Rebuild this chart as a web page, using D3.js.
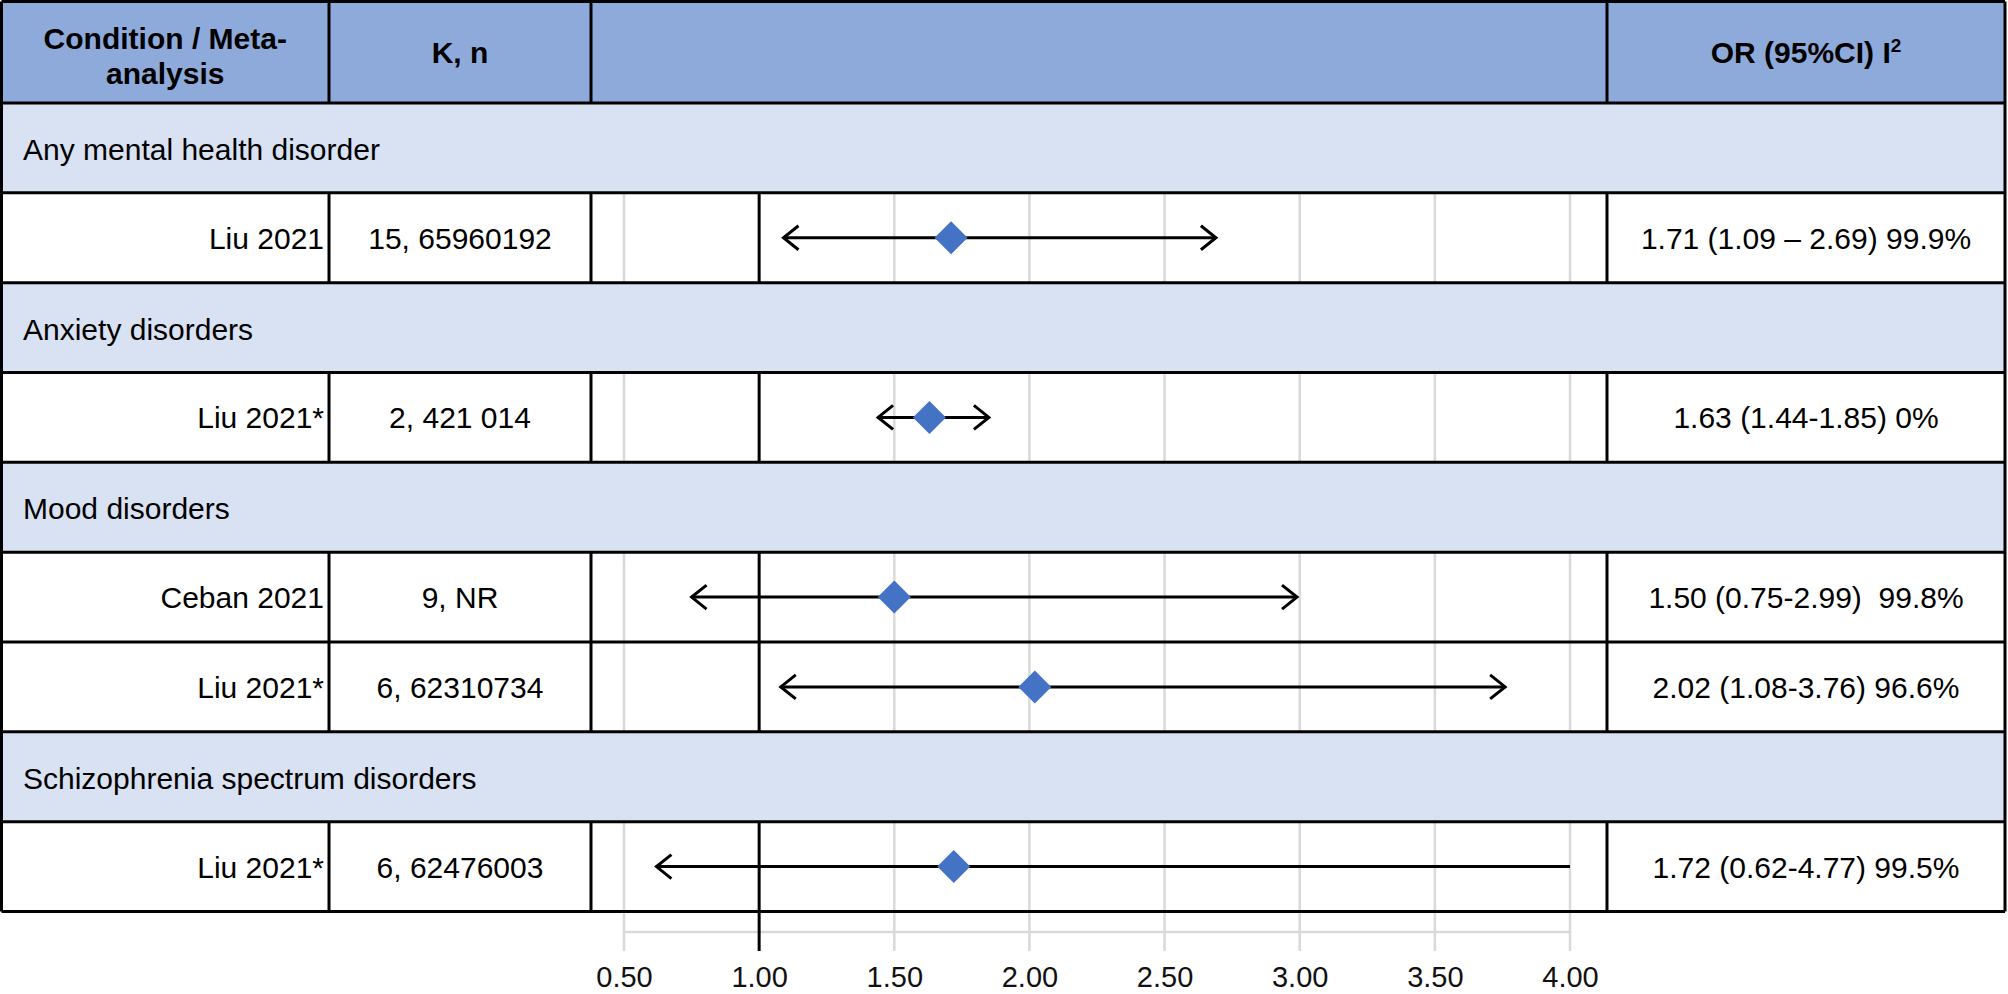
<!DOCTYPE html>
<html>
<head>
<meta charset="utf-8">
<script src="https://cdn.jsdelivr.net/npm/d3@7"></script>
<style>
  html, body { margin: 0; padding: 0; background: #fff; }
  svg { display: block; font-family: "Liberation Sans", Arial, sans-serif; }
  text { white-space: pre; }
</style>
</head>
<body>
<div id="chart"></div>
<script>
// Table content
const groups = ["Any mental health disorder", "Anxiety disorders", "Mood disorders", "Schizophrenia spectrum disorders"];
const studies = ["Liu 2021", "Liu 2021*", "Ceban 2021", "Liu 2021*", "Liu 2021*"];
const studyGroup = [0, 1, 2, 2, 3];
const kn = ["15, 65960192", "2, 421 014", "9, NR", "6, 62310734", "6, 62476003"];
const orValues = [1.71, 1.63, 1.50, 2.02, 1.72];
const ciLow = [1.09, 1.44, 0.75, 1.08, 0.62];
const ciHigh = [2.69, 1.85, 2.99, 3.76, 4.77];
const orLabels = ["1.71 (1.09 \u2013 2.69) 99.9%", "1.63 (1.44-1.85) 0%", "1.50 (0.75-2.99)  99.8%", "2.02 (1.08-3.76) 96.6%", "1.72 (0.62-4.77) 99.5%"];
const xTicks = [0.5, 1, 1.5, 2, 2.5, 3, 3.5, 4];

/** Layout */
const width = 2008, height = 994;
const left = 1.5, right = 2005;
const colX = [left, 329, 591, 1607, right];
const headerTop = 1.5, headerBottom = 103, tableBottom = 911.5;
const gridBottom = 951, axisLineY = 932;
const headerFill = "#8EAADB", sectionFill = "#D9E2F3", markerFill = "#4472C4";
const fontSize = 30;

// Flatten into table rows: a section row for each group followed by its studies
const rows = [];
groups.forEach((g, gi) => {
  rows.push({type: "section", label: g});
  studyGroup.forEach((sg, i) => {
    if (sg === gi) rows.push({type: "study", i: i});
  });
});

const yScale = d3.scaleBand()
  .domain(d3.range(rows.length))
  .range([headerBottom, tableBottom]);

const xScale = d3.scaleLinear()
  .domain([xTicks[0], xTicks[xTicks.length - 1]])
  .range([624, 1570]);

const svg = d3.select("#chart")
  .append("svg")
  .attr("width", width)
  .attr("height", height);

/** Gridlines behind the table */
const grid = svg.append("g").attr("id", "grid");
grid.selectAll("line.v")
  .data(xTicks.filter(d => d !== 1))
  .enter()
  .append("line")
  .attr("class", "v")
  .attr("x1", d => xScale(d)).attr("x2", d => xScale(d))
  .attr("y1", headerBottom).attr("y2", gridBottom)
  .attr("stroke", "#d9d9d9")
  .attr("stroke-width", 2.5);

grid.append("line")
  .attr("x1", xScale(xTicks[0])).attr("x2", xScale(xTicks[xTicks.length - 1]))
  .attr("y1", axisLineY).attr("y2", axisLineY)
  .attr("stroke", "#d9d9d9")
  .attr("stroke-width", 2.5);

// reference line at OR = 1
grid.append("line")
  .attr("x1", xScale(1)).attr("x2", xScale(1))
  .attr("y1", headerBottom).attr("y2", gridBottom)
  .attr("stroke", "#000")
  .attr("stroke-width", 3);

/** Header and section fills */
svg.append("rect")
  .attr("x", left).attr("y", headerTop)
  .attr("width", right - left).attr("height", headerBottom - headerTop)
  .attr("fill", headerFill);

svg.selectAll("rect.section")
  .data(rows.map((r, i) => ({...r, idx: i})).filter(r => r.type === "section"))
  .enter()
  .append("rect")
  .attr("class", "section")
  .attr("x", left).attr("y", d => yScale(d.idx))
  .attr("width", right - left).attr("height", yScale.bandwidth())
  .attr("fill", sectionFill);

/** Borders */
const borders = svg.append("g")
  .attr("stroke", "#000")
  .attr("stroke-width", 3);

const hLines = [headerTop, headerBottom].concat(rows.map((r, i) => yScale(i) + yScale.bandwidth()));
borders.selectAll("line.h")
  .data(hLines)
  .enter()
  .append("line")
  .attr("x1", left).attr("x2", right)
  .attr("y1", d => d).attr("y2", d => d);

borders.selectAll("line.outer")
  .data([left, right])
  .enter()
  .append("line")
  .attr("x1", d => d).attr("x2", d => d)
  .attr("y1", headerTop).attr("y2", tableBottom);

// inner column borders only on header and study rows
const cellSpans = [[headerTop, headerBottom]].concat(
  rows.map((r, i) => r.type === "study" ? [yScale(i), yScale(i) + yScale.bandwidth()] : null).filter(d => d)
);
cellSpans.forEach(span => {
  borders.selectAll(null)
    .data(colX.slice(1, 4))
    .enter()
    .append("line")
    .attr("x1", d => d).attr("x2", d => d)
    .attr("y1", span[0]).attr("y2", span[1]);
});

/** Header text */
const header = svg.append("g")
  .attr("font-weight", "bold")
  .attr("font-size", fontSize)
  .attr("fill", "#000")
  .attr("text-anchor", "middle");

header.append("text")
  .attr("x", (colX[0] + colX[1]) / 2).attr("y", 49)
  .text("Condition / Meta-");
header.append("text")
  .attr("x", (colX[0] + colX[1]) / 2).attr("y", 84)
  .text("analysis");
header.append("text")
  .attr("x", (colX[1] + colX[2]) / 2).attr("y", 63)
  .text("K, n");
const orHead = header.append("text")
  .attr("x", (colX[3] + colX[4]) / 2).attr("y", 63);
orHead.append("tspan").text("OR (95%CI) I");
orHead.append("tspan").attr("font-size", 19).attr("dy", -11).text("2");

/** Row text */
const body = svg.append("g")
  .attr("font-size", fontSize)
  .attr("fill", "#000");

rows.forEach((r, i) => {
  const yMid = yScale(i) + yScale.bandwidth() / 2;
  if (r.type === "section") {
    body.append("text")
      .attr("x", 23).attr("y", yMid + 12)
      .text(r.label);
  } else {
    body.append("text")
      .attr("x", colX[1] - 5).attr("y", yMid + 11)
      .attr("text-anchor", "end")
      .text(studies[r.i]);
    body.append("text")
      .attr("x", (colX[1] + colX[2]) / 2).attr("y", yMid + 11)
      .attr("text-anchor", "middle")
      .text(kn[r.i]);
    body.append("text")
      .attr("x", (colX[3] + colX[4]) / 2).attr("y", yMid + 11)
      .attr("text-anchor", "middle")
      .text(orLabels[r.i]);
  }
});

/** Confidence intervals with open arrowheads, clipped to the axis */
const studyRows = rows.map((r, i) => ({...r, idx: i})).filter(r => r.type === "study");
const plot = svg.append("g").attr("id", "plot");
const xMin = xScale.domain()[0], xMax = xScale.domain()[1];
const ah = {dx: 15, dy: 12};

studyRows.forEach(r => {
  const y = yScale(r.idx) + yScale.bandwidth() / 2;
  const lo = Math.max(ciLow[r.i], xMin), hi = Math.min(ciHigh[r.i], xMax);
  const x0 = xScale(lo), x1 = xScale(hi);
  plot.append("line")
    .attr("x1", x0).attr("x2", x1)
    .attr("y1", y).attr("y2", y)
    .attr("stroke", "#000").attr("stroke-width", 3);
  if (ciLow[r.i] >= xMin) {
    plot.append("path")
      .attr("d", `M${x0 + ah.dx},${y - ah.dy}L${x0},${y}L${x0 + ah.dx},${y + ah.dy}`)
      .attr("fill", "none").attr("stroke", "#000").attr("stroke-width", 3);
  }
  if (ciHigh[r.i] <= xMax) {
    plot.append("path")
      .attr("d", `M${x1 - ah.dx},${y - ah.dy}L${x1},${y}L${x1 - ah.dx},${y + ah.dy}`)
      .attr("fill", "none").attr("stroke", "#000").attr("stroke-width", 3);
  }
});

plot.selectAll("path.marker")
  .data(studyRows)
  .enter()
  .append("path")
  .attr("class", "marker")
  .attr("d", d3.symbol().type(d3.symbolSquare).size(545))
  .attr("transform", d => `translate(${xScale(orValues[d.i])},${yScale(d.idx) + yScale.bandwidth() / 2}) rotate(45)`)
  .attr("fill", markerFill);

/** Axis labels */
const xAxis = d3.axisBottom(xScale)
  .tickValues(xTicks)
  .tickFormat(d3.format(".2f"))
  .tickSize(0)
  .tickPadding(0);

const axisG = svg.append("g")
  .attr("transform", "translate(0,966)")
  .call(xAxis);
axisG.select(".domain").remove();
axisG.selectAll("text")
  .attr("font-size", 29)
  .attr("font-family", "Liberation Sans, Arial, sans-serif")
  .attr("fill", "#111");
</script>
</body>
</html>
